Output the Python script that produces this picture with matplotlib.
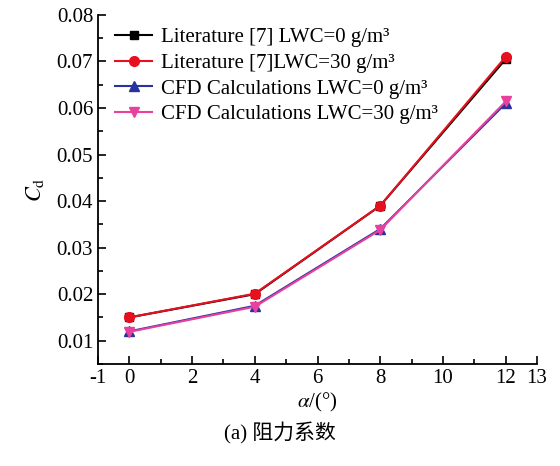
import numpy as np
import matplotlib.pyplot as plt
plt.rcParams['font.family'] = ['Liberation Serif', 'Noto Sans CJK SC']
plt.rcParams['mathtext.fontset'] = 'stix'
plt.rcParams['axes.unicode_minus'] = False

alpha = [0, 4, 8, 12]
lit_0 = [0.0150, 0.0200, 0.0390, 0.0705]
lit_30 = [0.0150, 0.0201, 0.0390, 0.0710]
cfd_0 = [0.0120, 0.0175, 0.0340, 0.0610]
cfd_30 = [0.0119, 0.0173, 0.0338, 0.0614]

fig = plt.figure(figsize=(5.6, 4.66), dpi=100)
ax = fig.add_axes([0.175, 0.219, 0.784, 0.749])
ax.plot(alpha, lit_0, color='black', marker='s', ms=6, lw=1.5, label='Literature [7] LWC=0 g/m³')
ax.plot(alpha, lit_30, color='#e8101e', marker='o', ms=7, lw=1.5, label='Literature [7]LWC=30 g/m³')
ax.plot(alpha, cfd_0, color='#2832a0', marker='^', ms=7, lw=1.5, label='CFD Calculations LWC=0 g/m³')
ax.plot(alpha, cfd_30, color='#e8409c', marker='v', ms=7, lw=1.5, label='CFD Calculations LWC=30 g/m³')

ax.set_xlim(-1, 13)
ax.set_ylim(0.005, 0.08)
ax.set_xticks([-1, 0, 2, 4, 6, 8, 10, 12, 13])
ax.set_xticks(np.arange(-1, 14, 1), minor=True)
ax.set_yticks(np.arange(0.01, 0.081, 0.01))
ax.set_yticks(np.arange(0.005, 0.081, 0.005), minor=True)
ax.set_yticklabels(['%.2f' % v for v in np.arange(0.01, 0.081, 0.01)])
ax.tick_params(direction='in', labelsize=15, length=6, width=1.2)
ax.tick_params(which='minor', direction='in', length=3.5, width=1.2)
ax.spines['top'].set_visible(False)
ax.spines['right'].set_visible(False)
ax.spines['left'].set_linewidth(1.3)
ax.spines['bottom'].set_linewidth(1.3)

ax.set_xlabel(r'$\alpha$/(°)', fontsize=15, labelpad=2)
ax.set_ylabel(r'$C_{\rm d}$', fontsize=16, labelpad=8)
ax.legend(loc='upper left', bbox_to_anchor=(0.01, 1.0), frameon=False, fontsize=15,
          handlelength=1.8, handletextpad=0.4, labelspacing=0.3, borderaxespad=0.2)
fig.text(0.5, 0.07, '(a) 阻力系数', ha='center', va='center', fontsize=15)
fig.savefig('out.png')
